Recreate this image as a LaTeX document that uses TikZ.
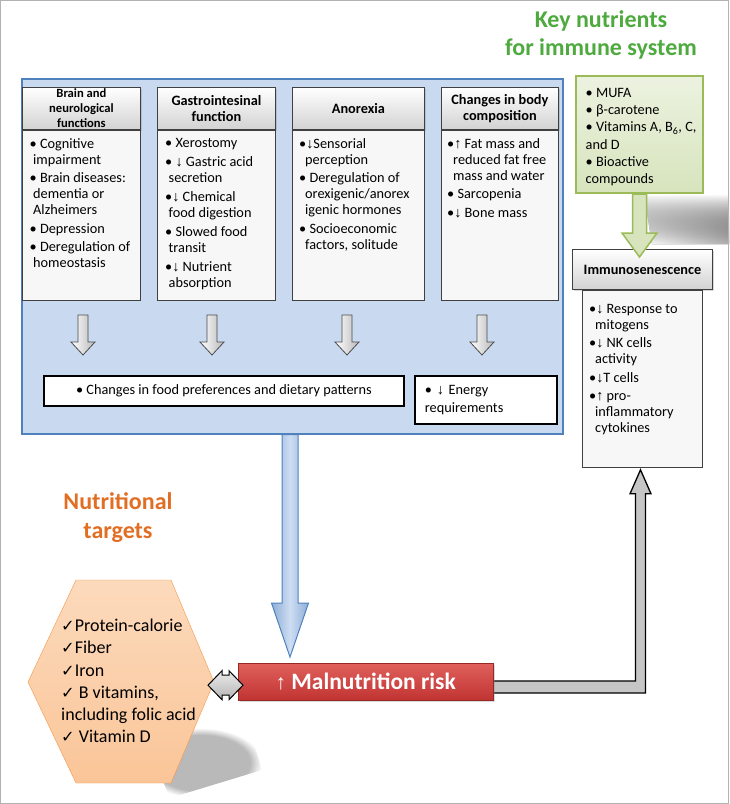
\documentclass[tikz,border=0pt]{standalone}
\usepackage{fontspec}
\setmainfont{Carlito}
\newfontfamily\arrfont{Liberation Sans}
\newfontfamily\chkfont{DejaVu Sans}[Scale=0.9]
\usetikzlibrary{calc,positioning,shadows,fadings}

\definecolor{panelblue}{RGB}{201,217,239}
\definecolor{paneledge}{RGB}{79,129,189}
\definecolor{arrblue}{RGB}{141,173,213}
\definecolor{arrbluelt}{RGB}{206,222,243}
\definecolor{keygreen}{RGB}{78,170,62}
\definecolor{boxgreen}{RGB}{215,228,189}
\definecolor{boxgreenlt}{RGB}{236,242,224}
\definecolor{edgegreen}{RGB}{155,187,89}
\definecolor{targetorange}{RGB}{226,110,36}
\definecolor{hexfill}{RGB}{252,218,188}
\definecolor{hexfilldk}{RGB}{250,197,152}
\definecolor{hexedge}{RGB}{247,150,70}
\definecolor{riskred}{RGB}{192,52,50}
\definecolor{riskredlt}{RGB}{224,96,92}
\definecolor{riskedge}{RGB}{150,40,38}

\newcommand{\arrdn}{{\arrfont ↓}}
\newcommand{\arrup}{{\arrfont ↑}}
\newcommand{\chk}{{\chkfont ✓}}

\tikzset{
  headline/.style={font=\bfseries\fontsize{24}{28.5}\selectfont, align=center, inner sep=0pt},
  colhdr/.style={draw=black!75, line width=0.8pt, top color=white, bottom color=gray!35,
    align=center, inner sep=0pt, minimum height=42pt, font=\bfseries\fontsize{14.3}{16}\selectfont,
    drop shadow={opacity=0.3, shadow xshift=1.5pt, shadow yshift=-1.5pt}},
  colbody/.style={draw=black!75, line width=0.8pt, fill=gray!6, inner sep=0pt},
  bodytext/.style={anchor=north west, align=left, inner sep=0pt, font=\fontsize{14.3}{16}\selectfont},
  grayarr/.style={draw=black!70, line width=0.8pt, left color=white, right color=gray!55},
  whitebox/.style={draw=black, line width=1.8pt, fill=white, inner sep=0pt, font=\fontsize{14.3}{18.5}\selectfont},
  bluearr/.style={draw=paneledge, line width=1pt, left color=arrblue, right color=arrblue, middle color=arrbluelt},
  greenarr/.style={draw=edgegreen, line width=1.5pt, fill=boxgreen},
  graylink/.style={draw=black, line width=1.3pt, fill=gray!45},
  dblarr/.style={draw=black, line width=1pt, top color=gray!15, bottom color=gray!60},
}

\begin{document}
\begin{tikzpicture}[x=1pt,y=-1pt]
        \useasboundingbox (0,0) rectangle (729,804);

        %% titles
        \node [headline, text=keygreen] (keytitle) at (601,35) {Key nutrients\\for immune system};
        \node [headline, text=targetorange] (targettitle) at (118,517.5) {Nutritional\\targets};

        %% blue panel
        \node [draw=paneledge, line width=1.5pt, fill=panelblue, minimum width=541pt, minimum height=355pt, anchor=north west] (panel) at (21,78) {};

        %% the four columns
        \node [colhdr, minimum width=118pt, anchor=north west, font=\bfseries\fontsize{12.6}{15}\selectfont] (brainhdr) at (22,87) {Brain and\\neurological\\functions};
        \node [colbody, minimum width=118pt, minimum height=170pt, below=0pt of brainhdr] (brainbody) {};
        \node [colhdr, minimum width=118pt, anchor=north west] (gastrohdr) at (157,87) {Gastrointesinal\\function};
        \node [colbody, minimum width=118pt, minimum height=170pt, below=0pt of gastrohdr] (gastrobody) {};
        \node [colhdr, minimum width=132pt, anchor=north west] (anorexhdr) at (292,87) {Anorexia};
        \node [colbody, minimum width=132pt, minimum height=170pt, below=0pt of anorexhdr] (anorexbody) {};
        \node [colhdr, minimum width=117pt, anchor=north west] (bodyhdr) at (441,87) {Changes in body\\composition};
        \node [colbody, minimum width=117pt, minimum height=170pt, below=0pt of bodyhdr] (bodybody) {};

        \node [bodytext] (braintext) at (29.5,138) {• Cognitive\\\hspace*{3.5pt}impairment\\[2.5pt]• Brain diseases:\\\hspace*{3.5pt}dementia or\\\hspace*{3.5pt}Alzheimers\\[2.5pt]• Depression\\[2.5pt]• Deregulation of\\\hspace*{3.5pt}homeostasis};
        \node [bodytext] (gastrotext) at (165,138) {• Xerostomy\\[3pt]• \arrdn\ Gastric acid\\\hspace*{3.5pt}secretion\\[3pt]•\arrdn\ Chemical\\\hspace*{3.5pt}food digestion\\[3pt]• Slowed food\\\hspace*{3.5pt}transit\\[3pt]•\arrdn\ Nutrient\\\hspace*{3.5pt}absorption};
        \node [bodytext] (anorextext) at (299,138) {•\arrdn Sensorial\\\hspace*{6pt}perception\\[2.5pt]• Deregulation of\\\hspace*{6pt}orexigenic/anorex\\\hspace*{6pt}igenic hormones\\[2.5pt]• Socioeconomic\\\hspace*{6pt}factors, solitude};
        \node [bodytext] (bodytext4) at (447,138) {•\arrup\ Fat mass and\\\hspace*{6pt}reduced fat free\\\hspace*{6pt}mass and water\\[2.5pt]• Sarcopenia\\[2.5pt]•\arrdn\ Bone mass};

        %% small grey arrows
        \foreach \ax [count=\i] in {83,212,347,482} {
            \coordinate (tip\i) at (\ax,355);
            \draw [grayarr] (tip\i) -- ++(-12,-13) -- ++(7,0) -- ++(0,-27) -- ++(10,0) -- ++(0,27) -- ++(7,0) -- cycle;
        }

        \node [whitebox, minimum width=360pt, minimum height=30pt, anchor=north west] (prefs) at (43,375) {• Changes in food preferences and dietary patterns};
        \node [whitebox, minimum width=142pt, minimum height=48pt, anchor=north west, align=left, text width=122pt, inner xsep=10pt] (energy) at (414,375) {• \arrdn\ Energy\\requirements};

        %% key nutrients
        \fill [left color=white, right color=gray!60, path fading=north] (644,196) -- (729,194) -- (729,244) -- (652,244) -- cycle;
        \node [draw=edgegreen, line width=2pt, top color=boxgreenlt, bottom color=boxgreen, minimum width=127pt, minimum height=117pt, anchor=north west] (nutrbox) at (575,75) {};
        \node [anchor=west, align=left, inner sep=0pt, font=\fontsize{14.3}{17.2}\selectfont] (nutrtext) at (585.5,137) {• MUFA\\• β-carotene\\• Vitamins A, B\textsubscript{6}, C,\\and D\\• Bioactive\\compounds};

        %% immunosenescence
        \node [colhdr, line width=1pt, minimum width=140pt, minimum height=40pt, anchor=north west] (immhdr) at (572,249) {Immunosenescence};
        \node [colbody, minimum width=120pt, minimum height=177pt, below=0pt of immhdr] (immbody) {};
        \node [bodytext] (immtext) at (589,304) {•\arrdn\ Response to\\\hspace*{6pt}mitogens\\[2.5pt]•\arrdn\ NK cells\\\hspace*{6pt}activity\\[2.5pt]•\arrdn T cells\\[2.5pt]•\arrup\ pro-\\\hspace*{6pt}inflammatory\\\hspace*{6pt}cytokines};

        \coordinate (gtip) at ($(nutrbox.south |- immhdr.north)+(0,8)$);
        \draw [greenarr] ($(nutrbox.south)+(-7,0)$) -- ($(gtip)+(-7,-24)$) -- ($(gtip)+(-17.5,-24)$) -- (gtip) -- ($(gtip)+(17.5,-24)$) -- ($(gtip)+(7,-24)$) -- ($(nutrbox.south)+(7,0)$) -- cycle;

        %% nutritional targets
        \fill [gray!55, path fading=circle with fuzzy edge 20 percent] (140,728) -- (250,730) -- (262,770) -- (170,798) -- cycle;
        \draw [hexedge, top color=hexfill, bottom color=hexfilldk] (28,682) -- (76,580) -- (171,580) -- (214,682) -- (171,783) -- (76,783) -- cycle;
        \node [anchor=north west, align=left, inner sep=0pt, font=\fontsize{18}{22.2}\selectfont] (targets) at (61,619) {\chk Protein-calorie\\\chk Fiber\\\chk Iron\\\chk\ B vitamins,\\including folic acid\\\chk\ Vitamin D};

        %% malnutrition risk
        \coordinate (ltip) at ($(immbody.south)+(-2,2)$);
        \draw [graylink] ($(immbody.south |- 0,681)+(-7,0)$) -- ($(ltip)+(-5,24)$) -- ($(ltip)+(-10.5,24)$) -- (ltip) -- ($(ltip)+(10.5,24)$) -- ($(ltip)+(5,24)$) -- ($(ltip |- 0,693)+(5,0)$) -- (480,693) -- (480,681) -- cycle;
        \node [draw=riskedge, top color=riskredlt, bottom color=riskred, minimum width=255pt, minimum height=37pt, anchor=north west, text=white, font=\bfseries\fontsize{23.5}{26}\selectfont, drop shadow={opacity=0.3, shadow xshift=1.5pt, shadow yshift=-1.5pt}] (risk) at (238,663) {{\arrfont\mdseries\fontsize{21}{21}\selectfont ↑} Malnutrition risk};

        \coordinate (btip) at ($(risk.north west)+(52,-6)$);
        \draw [bluearr] ($(btip |- panel.south)+(-8,0)$) -- ($(btip)+(-8,-54)$) -- ($(btip)+(-18.5,-54)$) -- (btip) -- ($(btip)+(18.5,-54)$) -- ($(btip)+(8,-54)$) -- ($(btip |- panel.south)+(8,0)$) -- cycle;

        \draw [dblarr] ($(risk.west)+(-30,3.5)$) -- ++(14,-14.5) -- ++(0,4.5) -- ++(7,0) -- ++(0,-4.5) -- ++(14,14.5) -- ++(-14,14.5) -- ++(0,-4.5) -- ++(-7,0) -- ++(0,4.5) -- cycle;

        \draw [gray!60] (0.5,0.5) rectangle (728.5,803.5);
\end{tikzpicture}
\end{document}
